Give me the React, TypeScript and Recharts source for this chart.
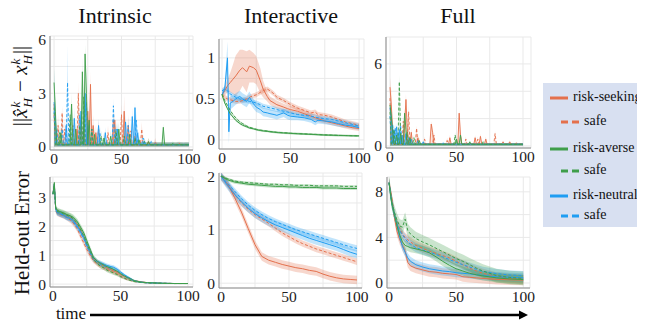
import React from 'react';
import { ComposedChart, Line, Area, XAxis, YAxis, CartesianGrid } from 'recharts';

// ---------- colours ----------
const C_SEEK = '#e4704c';
const C_AVERSE = '#3f9e4a';
const C_NEUTRAL = '#1f9df2';

// ---------- labels ----------
const TITLES = ['Intrinsic', 'Interactive', 'Full'];
const X_TICKS = [0, 25, 50, 75, 100];
const X_MAJOR = [0, 50, 100];
const LEGEND_ITEMS = [
  { label: 'risk-seeking', color: C_SEEK, dashed: false },
  { label: 'safe', color: C_SEEK, dashed: true },
  { label: 'risk-averse', color: C_AVERSE, dashed: false },
  { label: 'safe', color: C_AVERSE, dashed: true },
  { label: 'risk-neutral', color: C_NEUTRAL, dashed: false },
  { label: 'safe', color: C_NEUTRAL, dashed: true },
];

// ---------- Top-left: Intrinsic, trajectory error (spikes: [x, mean, upper]) ----------
const tlBase = [0.02, 0.12, 0.25];
const tlSeek = [[0, 2.4, 3.0], [1, 1.2, 1.8], [17, 1.0, 1.6], [20, 1.5, 2.2], [25, 2.0, 2.8], [27, 3.5, 4.2], [29, 1.2, 1.8], [31, 0.8, 1.2], [45, 1.5, 2.0], [52, 2.0, 2.9], [55, 1.2, 1.8], [60, 0.6, 0.9], [70, 0.3, 0.5], [93, 0.2, 0.3]];
const tlSeekSafe = [[0, 1.8, 2.4], [3, 1.2, 1.8], [6, 1.9, 2.3], [8, 1.0, 1.5], [14, 1.2, 1.8], [18, 3.0, 3.6], [22, 1.6, 2.2], [33, 1.0, 1.5], [40, 0.8, 1.2], [44, 1.5, 2.0], [50, 1.8, 2.4], [57, 0.9, 1.3], [65, 1.0, 1.4], [75, 0.3, 0.5], [92, 0.15, 0.3]];
const tlAverse = [[0, 3.6, 4.4], [1, 2.0, 2.6], [5, 0.8, 1.2], [13, 2.4, 3.0], [16, 1.0, 1.5], [21, 4.2, 5.0], [23, 5.2, 5.7], [24, 3.0, 4.0], [26, 1.5, 2.2], [30, 0.7, 1.1], [37, 0.5, 0.8], [42, 0.6, 0.9], [48, 1.0, 1.4], [56, 0.7, 1.0], [63, 0.4, 0.6], [70, 0.3, 0.5], [81, 1.1, 1.3], [88, 0.2, 0.3]];
const tlAverseSafe = [[0, 2.2, 2.8], [4, 0.8, 1.2], [12, 1.8, 2.4], [19, 1.2, 1.7], [22, 2.8, 3.5], [28, 1.0, 1.4], [35, 0.6, 0.9], [46, 0.9, 1.3], [52, 0.6, 0.9], [60, 0.5, 0.7], [67, 0.3, 0.5], [96, 0.12, 0.2]];
const tlNeutral = [[0, 2.5, 4.4], [1, 1.5, 2.2], [9, 1.2, 1.8], [15, 1.6, 2.2], [20, 2.0, 2.6], [23, 3.0, 3.6], [25, 1.2, 1.8], [33, 1.2, 1.6], [38, 0.8, 1.1], [47, 1.0, 1.4], [53, 1.4, 1.9], [58, 1.7, 2.2], [60, 2.2, 2.5], [62, 0.8, 1.1], [67, 0.3, 0.5], [75, 0.2, 0.3]];
const tlNeutralSafe = [[0, 2.0, 3.0], [2, 1.0, 1.5], [6, 1.0, 1.8], [10, 3.6, 5.7], [12, 1.5, 2.0], [19, 1.8, 2.5], [24, 2.5, 3.5], [28, 1.0, 1.5], [34, 0.8, 1.2], [44, 2.3, 2.7], [46, 1.0, 1.4], [55, 1.2, 1.6], [61, 1.5, 2.0], [66, 0.5, 0.7], [72, 0.3, 0.4], [90, 0.15, 0.2]];

// ---------- Top-middle: Interactive, trajectory error ----------
const tmX = [0, 2, 4, 5, 6, 8, 10, 13, 15, 18, 20, 23, 25, 28, 30, 33, 35, 38, 40, 45, 48, 50, 55, 60, 65, 68, 70, 75, 80, 85, 90, 95, 100];
const tmSeek = [0.55, 0.6, 0.66, 0.68, 0.7, 0.74, 0.78, 0.85, 0.88, 0.83, 0.9, 0.88, 0.85, 0.72, 0.62, 0.53, 0.48, 0.45, 0.43, 0.4, 0.38, 0.37, 0.35, 0.32, 0.29, 0.27, 0.26, 0.23, 0.21, 0.19, 0.17, 0.15, 0.14];
const tmSeekSpread = [0.03, 0.06, 0.08, 0.1, 0.12, 0.18, 0.25, 0.25, 0.22, 0.25, 0.2, 0.18, 0.17, 0.15, 0.1, 0.06, 0.05, 0.05, 0.05, 0.04, 0.04, 0.04, 0.04, 0.04, 0.04, 0.04, 0.04, 0.03, 0.03, 0.03, 0.03, 0.03, 0.03];
const tmSeekSafe = [0.55, 0.52, 0.5, 0.5, 0.49, 0.48, 0.47, 0.47, 0.48, 0.5, 0.52, 0.54, 0.55, 0.58, 0.6, 0.62, 0.6, 0.56, 0.52, 0.48, 0.45, 0.43, 0.39, 0.36, 0.33, 0.34, 0.31, 0.3, 0.28, 0.25, 0.22, 0.2, 0.18];
const tmNeutral = [0.55, 0.62, 1.0, 0.1, 0.45, 0.47, 0.5, 0.53, 0.5, 0.47, 0.52, 0.44, 0.4, 0.37, 0.34, 0.33, 0.32, 0.31, 0.3, 0.33, 0.3, 0.29, 0.28, 0.27, 0.25, 0.22, 0.24, 0.23, 0.22, 0.2, 0.18, 0.17, 0.15];
const tmNeutralSpread = [0.03, 0.05, 0.2, 0.15, 0.08, 0.07, 0.07, 0.07, 0.07, 0.07, 0.07, 0.06, 0.06, 0.05, 0.05, 0.05, 0.05, 0.05, 0.05, 0.05, 0.05, 0.05, 0.04, 0.04, 0.04, 0.04, 0.04, 0.04, 0.04, 0.04, 0.03, 0.03, 0.03];
const tmNeutralSafe = [0.6, 0.62, 0.6, 0.58, 0.56, 0.54, 0.52, 0.5, 0.49, 0.48, 0.47, 0.46, 0.45, 0.43, 0.41, 0.4, 0.39, 0.38, 0.37, 0.35, 0.34, 0.33, 0.31, 0.3, 0.29, 0.28, 0.27, 0.26, 0.25, 0.23, 0.21, 0.19, 0.17];
const tmAverse = [0.55, 0.45, 0.38, 0.35, 0.32, 0.28, 0.24, 0.2, 0.18, 0.16, 0.145, 0.135, 0.125, 0.115, 0.11, 0.105, 0.1, 0.095, 0.09, 0.085, 0.083, 0.08, 0.076, 0.072, 0.068, 0.066, 0.064, 0.06, 0.058, 0.055, 0.053, 0.051, 0.05];
const tmAverseSafe = [0.56, 0.48, 0.42, 0.39, 0.36, 0.31, 0.27, 0.22, 0.2, 0.17, 0.155, 0.14, 0.13, 0.12, 0.115, 0.108, 0.103, 0.098, 0.094, 0.088, 0.085, 0.082, 0.078, 0.074, 0.07, 0.068, 0.066, 0.062, 0.059, 0.056, 0.054, 0.052, 0.05];

// ---------- Top-right: Full, trajectory error (spikes: [x, mean, upper]) ----------
const trBase = [0.02, 0.12, 0.22];
const trSeek = [[0, 4.3, 5.0], [1, 3.0, 4.0], [2, 1.0, 1.6], [11, 1.5, 2.0], [12, 3.4, 3.8], [13, 1.2, 1.8], [16, 1.0, 1.3], [21, 0.6, 0.9], [31, 1.6, 1.8], [32, 1.0, 1.4], [45, 0.6, 0.8], [52, 2.4, 2.6], [53, 0.8, 1.2], [64, 0.6, 0.8], [68, 0.7, 0.9], [72, 0.5, 0.7], [90, 0.3, 0.4]];
const trSeekSafe = [[0, 3.5, 4.5], [2, 1.2, 1.6], [10, 1.8, 2.2], [14, 2.5, 3.0], [20, 1.3, 1.5], [26, 0.5, 0.7], [33, 0.8, 1.1], [43, 0.4, 0.6], [57, 0.5, 0.7], [66, 0.5, 0.7], [79, 0.9, 1.1], [85, 0.3, 0.4], [95, 0.2, 0.3]];
const trAverse = [[0, 3.0, 3.6], [1, 2.2, 2.8], [2, 1.0, 1.4], [5, 0.8, 1.1], [8, 0.9, 1.2], [11, 2.4, 2.7], [12, 1.2, 1.6], [15, 0.6, 0.9], [22, 0.4, 0.6], [50, 0.5, 0.7], [53, 0.8, 1.0], [60, 0.3, 0.4]];
const trAverseSafe = [[0, 2.5, 3.2], [3, 1.2, 1.6], [7, 4.7, 5.2], [8, 1.0, 1.5], [13, 1.0, 1.4], [18, 0.6, 0.8], [49, 0.8, 1.0], [70, 0.3, 0.4]];
const trNeutral = [[0, 2.8, 3.5], [1, 2.0, 2.6], [3, 1.2, 1.6], [5, 1.4, 1.7], [7, 1.2, 1.5], [9, 0.8, 1.2], [12, 0.9, 1.2], [16, 0.5, 0.7], [25, 0.3, 0.4]];
const trNeutralSafe = [[0, 2.2, 3.0], [2, 1.6, 2.0], [4, 1.3, 1.6], [6, 1.0, 1.3], [8, 1.5, 1.8], [14, 0.6, 0.8], [21, 0.4, 0.5], [40, 0.2, 0.3]];

// ---------- Bottom-left: Intrinsic, held-out error ----------
const blX = [0, 1, 2, 3, 5, 8, 10, 13, 15, 18, 20, 23, 25, 28, 30, 33, 35, 38, 40, 43, 45, 48, 50, 53, 55, 58, 60, 65, 70, 80, 90, 100];
const blSeek = [3.1, 3.45, 2.6, 2.5, 2.42, 2.38, 2.33, 2.28, 2.2, 2.05, 1.9, 1.6, 1.35, 1.05, 0.88, 0.75, 0.7, 0.62, 0.56, 0.5, 0.46, 0.4, 0.33, 0.26, 0.22, 0.16, 0.12, 0.08, 0.05, 0.03, 0.02, 0.02];
const blSeekSafe = [3.1, 3.4, 2.55, 2.45, 2.4, 2.35, 2.3, 2.2, 2.1, 1.9, 1.7, 1.4, 1.2, 0.95, 0.8, 0.68, 0.62, 0.55, 0.5, 0.45, 0.4, 0.34, 0.27, 0.2, 0.16, 0.12, 0.09, 0.06, 0.04, 0.03, 0.02, 0.02];
const blAverse = [3.1, 3.5, 2.65, 2.55, 2.5, 2.45, 2.4, 2.35, 2.3, 2.15, 2.0, 1.75, 1.5, 1.15, 0.92, 0.78, 0.72, 0.65, 0.6, 0.55, 0.5, 0.43, 0.36, 0.28, 0.23, 0.17, 0.12, 0.07, 0.05, 0.03, 0.02, 0.02];
const blAverseSafe = [3.1, 3.4, 2.6, 2.5, 2.48, 2.42, 2.38, 2.32, 2.25, 2.1, 1.92, 1.65, 1.4, 1.08, 0.85, 0.7, 0.62, 0.55, 0.48, 0.42, 0.38, 0.32, 0.26, 0.2, 0.16, 0.12, 0.09, 0.06, 0.04, 0.03, 0.02, 0.02];
const blNeutral = [3.1, 3.45, 2.6, 2.48, 2.44, 2.38, 2.32, 2.26, 2.2, 2.0, 1.85, 1.6, 1.38, 1.08, 0.9, 0.78, 0.74, 0.68, 0.64, 0.6, 0.58, 0.5, 0.42, 0.32, 0.26, 0.18, 0.12, 0.07, 0.05, 0.03, 0.02, 0.02];
const blNeutralSafe = [3.1, 3.4, 2.58, 2.46, 2.42, 2.36, 2.3, 2.24, 2.15, 1.95, 1.8, 1.55, 1.3, 1.02, 0.85, 0.74, 0.68, 0.62, 0.58, 0.54, 0.5, 0.44, 0.36, 0.27, 0.22, 0.15, 0.1, 0.06, 0.04, 0.03, 0.02, 0.02];
const blSpread = [0.05, 0.08, 0.1, 0.1, 0.1, 0.1, 0.1, 0.1, 0.1, 0.1, 0.1, 0.1, 0.1, 0.1, 0.08, 0.07, 0.07, 0.07, 0.07, 0.07, 0.07, 0.06, 0.05, 0.04, 0.04, 0.03, 0.03, 0.02, 0.015, 0.01, 0.01, 0.01];

// ---------- Bottom-middle: Interactive, held-out error ----------
const bmX = [0, 5, 10, 15, 20, 25, 30, 35, 40, 45, 50, 55, 60, 65, 70, 75, 80, 85, 90, 95, 100];
const bmSeek = [2.0, 1.85, 1.6, 1.33, 1.02, 0.72, 0.5, 0.43, 0.39, 0.35, 0.32, 0.29, 0.27, 0.24, 0.22, 0.17, 0.13, 0.1, 0.08, 0.07, 0.06];
const bmSeekSafe = [2.0, 1.84, 1.66, 1.5, 1.38, 1.28, 1.2, 1.12, 1.03, 0.94, 0.87, 0.8, 0.74, 0.69, 0.64, 0.6, 0.56, 0.52, 0.48, 0.44, 0.4];
const bmNeutral = [2.0, 1.82, 1.66, 1.52, 1.4, 1.3, 1.22, 1.15, 1.09, 1.04, 0.99, 0.94, 0.89, 0.84, 0.8, 0.76, 0.72, 0.68, 0.63, 0.58, 0.54];
const bmNeutralSafe = [2.0, 1.86, 1.72, 1.58, 1.46, 1.36, 1.28, 1.21, 1.15, 1.1, 1.05, 1.0, 0.96, 0.92, 0.88, 0.84, 0.8, 0.76, 0.72, 0.68, 0.65];
const bmAverse = [2.0, 1.93, 1.89, 1.87, 1.85, 1.84, 1.83, 1.82, 1.81, 1.81, 1.8, 1.8, 1.79, 1.79, 1.79, 1.78, 1.78, 1.78, 1.77, 1.77, 1.77];
const bmAverseSafe = [2.0, 1.95, 1.91, 1.89, 1.88, 1.87, 1.86, 1.85, 1.85, 1.84, 1.84, 1.83, 1.83, 1.83, 1.82, 1.82, 1.82, 1.82, 1.81, 1.81, 1.81];

// ---------- Bottom-right: Full, held-out error ----------
const brX = [0, 2, 4, 6, 8, 10, 12, 14, 16, 20, 25, 30, 35, 40, 45, 50, 55, 60, 65, 70, 80, 90, 100];
const brSeek = [8.8, 7.5, 5.8, 4.5, 3.8, 3.3, 2.8, 1.8, 1.5, 1.3, 1.15, 1.0, 0.95, 0.85, 0.8, 0.75, 0.55, 0.5, 0.45, 0.4, 0.32, 0.28, 0.25];
const brSeekSafe = [8.8, 7.3, 6.0, 5.2, 4.8, 4.3, 4.0, 3.8, 3.6, 3.3, 3.05, 2.8, 2.6, 2.4, 2.2, 1.9, 1.6, 1.3, 1.05, 0.85, 0.55, 0.42, 0.35];
const brNeutral = [8.8, 7.2, 6.0, 5.0, 4.0, 3.2, 2.7, 2.2, 1.9, 1.6, 1.4, 1.25, 1.15, 1.05, 1.0, 0.9, 0.85, 0.8, 0.72, 0.65, 0.55, 0.5, 0.45];
const brNeutralSafe = [8.8, 7.0, 6.0, 5.2, 4.6, 4.2, 3.9, 3.6, 3.4, 3.1, 2.9, 2.7, 2.5, 2.3, 2.05, 1.82, 1.6, 1.4, 1.2, 1.02, 0.82, 0.7, 0.65];
const brAverse = [8.8, 7.0, 6.0, 5.0, 4.2, 3.6, 3.3, 3.2, 3.1, 3.0, 2.85, 2.65, 2.3, 1.9, 1.55, 1.25, 1.05, 0.85, 0.72, 0.62, 0.45, 0.35, 0.3];
const brAverseSafe = [8.8, 7.2, 6.2, 5.5, 5.0, 4.9, 5.6, 4.6, 4.3, 3.9, 3.6, 3.35, 3.05, 2.75, 2.45, 2.15, 1.9, 1.6, 1.3, 1.05, 0.65, 0.48, 0.4];

// ---------- series definitions ----------
const SERIES = [
  { key: 'seek', color: C_SEEK, dashed: false },
  { key: 'seekSafe', color: C_SEEK, dashed: true },
  { key: 'neutral', color: C_NEUTRAL, dashed: false },
  { key: 'neutralSafe', color: C_NEUTRAL, dashed: true },
  { key: 'averse', color: C_AVERSE, dashed: false },
  { key: 'averseSafe', color: C_AVERSE, dashed: true },
];

type Spread = number | number[];

function denseRows(xs: number[], means: Record<string, number[]>, spreads: Record<string, Spread>) {
  return xs.map((x, i) => {
    const r: any = { x };
    for (const k of Object.keys(means)) {
      const m = means[k][i];
      const sp = spreads[k];
      const s = Array.isArray(sp) ? sp[i] : sp;
      r[k] = m;
      r[k + 'B'] = [m - s, m + s];
    }
    return r;
  });
}

const X_STEPS = Array.from({ length: 101 }, (_, i) => i);

function spikeRows(spikes: Record<string, number[][]>, base: number[]) {
  return X_STEPS.map((x) => {
    const r: any = { x };
    for (const k of Object.keys(spikes)) {
      const hit = spikes[k].find((s) => s[0] === x);
      if (hit) {
        r[k] = hit[1];
        r[k + 'B'] = [base[0], hit[2]];
      } else {
        r[k] = base[1];
        r[k + 'B'] = [base[0], base[2]];
      }
    }
    return r;
  });
}

const tlRows = spikeRows({ seek: tlSeek, seekSafe: tlSeekSafe, neutral: tlNeutral, neutralSafe: tlNeutralSafe, averse: tlAverse, averseSafe: tlAverseSafe }, tlBase);
const trRows = spikeRows({ seek: trSeek, seekSafe: trSeekSafe, neutral: trNeutral, neutralSafe: trNeutralSafe, averse: trAverse, averseSafe: trAverseSafe }, trBase);
const tmRows = denseRows(tmX,
  { seek: tmSeek, seekSafe: tmSeekSafe, neutral: tmNeutral, neutralSafe: tmNeutralSafe, averse: tmAverse, averseSafe: tmAverseSafe },
  { seek: tmSeekSpread, seekSafe: 0.03, neutral: tmNeutralSpread, neutralSafe: 0.03, averse: 0.012, averseSafe: 0.01 });
const blRows = denseRows(blX,
  { seek: blSeek, seekSafe: blSeekSafe, neutral: blNeutral, neutralSafe: blNeutralSafe, averse: blAverse, averseSafe: blAverseSafe },
  { seek: blSpread, seekSafe: blSpread, neutral: blSpread, neutralSafe: blSpread, averse: blSpread, averseSafe: blSpread });
const bmRows = denseRows(bmX,
  { seek: bmSeek, seekSafe: bmSeekSafe, neutral: bmNeutral, neutralSafe: bmNeutralSafe, averse: bmAverse, averseSafe: bmAverseSafe },
  { seek: 0.08, seekSafe: 0.06, neutral: 0.08, neutralSafe: 0.06, averse: 0.03, averseSafe: 0.02 });
const brRows = denseRows(brX,
  { seek: brSeek, seekSafe: brSeekSafe, neutral: brNeutral, neutralSafe: brNeutralSafe, averse: brAverse, averseSafe: brAverseSafe },
  { seek: 0.45, seekSafe: 0.4, neutral: 0.4, neutralSafe: 0.4, averse: 0.4, averseSafe: 0.6 });

const SERIF = '"Liberation Serif", serif';
const TICK_FONT = { fontFamily: SERIF, fontSize: 15.5, fill: '#222' };

type PanelProps = {
  left: number; top: number; w: number; h: number;
  xDomain: number[]; yDomain: number[]; yTicks: number[]; yMajor: number[];
  rows: any[]; bandOpacity?: number; lineWidth?: number;
};

function Panel({ left, top, w, h, xDomain, yDomain, yTicks, yMajor, rows, bandOpacity = 0.28, lineWidth = 1 }: PanelProps) {
  const YW = 40, XH = 22, MT = 9, MR = 16;
  return (
    <div style={{ position: 'absolute', left: left - YW, top: top - MT }}>
      <ComposedChart width={YW + w + MR} height={MT + h + XH} data={rows}
        margin={{ top: MT, right: MR, bottom: 0, left: 0 }} style={{ overflow: 'visible' }}>
        <CartesianGrid stroke="#e9e9e9" strokeWidth={1} />
        <XAxis dataKey="x" type="number" domain={xDomain} allowDataOverflow ticks={X_TICKS} interval={0}
          tickFormatter={(v: number) => (X_MAJOR.includes(v) ? String(v) : '')}
          height={XH} tick={TICK_FONT} tickLine={false} tickSize={0} tickMargin={3}
          axisLine={{ stroke: '#8a8a8a' }} />
        <YAxis type="number" domain={yDomain} allowDataOverflow ticks={yTicks} interval={0}
          tickFormatter={(v: number) => (yMajor.includes(v) ? String(v) : '')}
          width={YW} tick={TICK_FONT} tickLine={false} tickSize={0} tickMargin={4}
          axisLine={{ stroke: '#8a8a8a' }} />
        {SERIES.map((s) => (
          <Area key={s.key + 'B'} dataKey={s.key + 'B'} type="linear" stroke="none" fill={s.color}
            fillOpacity={bandOpacity} isAnimationActive={false} dot={false} activeDot={false} />
        ))}
        {SERIES.map((s) => (
          <Line key={s.key} dataKey={s.key} type="linear" stroke={s.color} strokeWidth={lineWidth}
            strokeDasharray={s.dashed ? '3 2' : undefined} dot={false} activeDot={false}
            isAnimationActive={false} />
        ))}
      </ComposedChart>
    </div>
  );
}

function Stack({ sup, sub }: { sup: string; sub: string }) {
  return (
    <span style={{ display: 'inline-flex', flexDirection: 'column', verticalAlign: 'middle', fontSize: 13, lineHeight: '12px', fontStyle: 'italic', margin: '0 1px' }}>
      <span>{sup}</span>
      <span>{sub}</span>
    </span>
  );
}

export default function App() {
  return (
    <div style={{ position: 'relative', width: 645, height: 329, background: '#fff', margin: -8, overflow: 'hidden', fontFamily: SERIF }}>
      {TITLES.map((t, i) => (
        <div key={t} style={{ position: 'absolute', left: [115, 291, 458][i], top: 16, transform: 'translate(-50%, -50%)', fontFamily: SERIF, fontSize: 22, lineHeight: '28px', color: '#111', whiteSpace: 'nowrap' }}>{t}</div>
      ))}

      <div style={{ position: 'absolute', left: 21, top: 86, transform: 'translate(-50%, -50%) rotate(-90deg)', fontFamily: SERIF, fontSize: 21, color: '#111', whiteSpace: 'nowrap', lineHeight: '24px' }}>
        ||<i>x̂</i><Stack sup="k" sub="H" /> − <i>x</i><Stack sup="k" sub="H" />||
      </div>
      <div style={{ position: 'absolute', left: 22, top: 233, transform: 'translate(-50%, -50%) rotate(-90deg)', fontFamily: SERIF, fontSize: 21, color: '#111', whiteSpace: 'nowrap' }}>
        Held-out Error
      </div>

      <Panel left={50} top={36} w={143} h={114} xDomain={[-3, 103]} yDomain={[-0.17, 6.2]} yTicks={[0, 1.5, 3, 4.5, 6]} yMajor={[0, 3, 6]} rows={tlRows} bandOpacity={0.18} lineWidth={0.9} />
      <Panel left={219} top={39} w={145} h={110} xDomain={[-2.2, 103.6]} yDomain={[-0.11, 1.23]} yTicks={[0, 0.25, 0.5, 0.75, 1]} yMajor={[0, 0.5, 1]} rows={tmRows} />
      <Panel left={386} top={37} w={145} h={111} xDomain={[-3, 106]} yDomain={[-0.15, 7.97]} yTicks={[0, 2, 4, 6]} yMajor={[0, 6]} rows={trRows} bandOpacity={0.18} lineWidth={0.9} />
      <Panel left={50} top={177} w={143} h={110} xDomain={[-2.2, 103.7]} yDomain={[-0.1, 3.69]} yTicks={[0, 0.5, 1, 1.5, 2, 2.5, 3, 3.5]} yMajor={[0, 1, 2, 3]} rows={blRows} />
      <Panel left={219} top={173} w={143} h={115} xDomain={[-1.5, 103.7]} yDomain={[-0.09, 2.06]} yTicks={[0, 0.5, 1, 1.5, 2]} yMajor={[0, 1, 2]} rows={bmRows} />
      <Panel left={387} top={177} w={143} h={111} xDomain={[-1.5, 105]} yDomain={[-0.44, 9.3]} yTicks={[0, 2, 4, 6, 8]} yMajor={[0, 4, 8]} rows={brRows} />

      <div style={{ position: 'absolute', left: 71, top: 314, transform: 'translate(-50%, -50%)', fontFamily: SERIF, fontSize: 17, color: '#111' }}>time</div>
      <svg style={{ position: 'absolute', left: 0, top: 0 }} width={645} height={329}>
        <line x1={90} y1={315} x2={521} y2={315} stroke="#000" strokeWidth={2.5} />
        <polygon points="519,310.5 528,315 519,319.5" fill="#000" />
      </svg>

      <div style={{ position: 'absolute', left: 543, top: 83, width: 102, height: 144, background: '#d8e0f1' }}>
        {LEGEND_ITEMS.map((it, i) => {
          const ys = [15, 39, 66, 88, 113, 133];
          const sampleLeft = it.dashed ? 18 : 7;
          return (
            <div key={i} style={{ position: 'absolute', left: 0, top: ys[i], width: 102, height: 0 }}>
              <svg style={{ position: 'absolute', left: sampleLeft, top: -2 }} width={20} height={4}>
                <line x1={0} y1={2} x2={it.dashed ? 19 : 18} y2={2} stroke={it.color} strokeWidth={3}
                  strokeDasharray={it.dashed ? '7 4' : undefined} />
              </svg>
              <span style={{ position: 'absolute', left: it.dashed ? 41 : 30, top: -9, fontFamily: SERIF, fontSize: 14, color: '#111', whiteSpace: 'nowrap', lineHeight: '16px' }}>{it.label}</span>
            </div>
          );
        })}
      </div>
    </div>
  );
}
